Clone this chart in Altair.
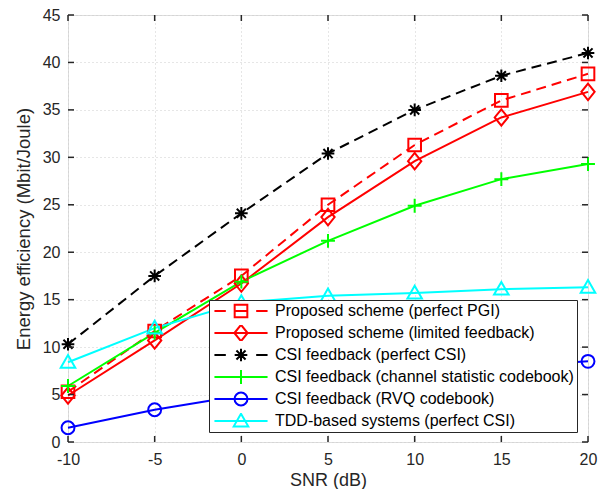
import altair as alt
import pandas as pd

# ---------------- data ----------------
snr = [-10, -5, 0, 5, 10, 15, 20]
series_names = [
    "Proposed scheme (perfect PGI)",
    "Proposed scheme (limited feedback)",
    "CSI feedback (perfect CSI)",
    "CSI feedback (channel statistic codebook)",
    "CSI feedback (RVQ codebook)",
    "TDD-based systems (perfect CSI)",
]
perfect_pgi = [5.3, 11.7, 17.5, 25.0, 31.3, 36.0, 38.8]
limited_feedback = [4.9, 10.7, 16.7, 23.7, 29.6, 34.2, 36.9]
perfect_csi = [10.3, 17.5, 24.1, 30.4, 35.0, 38.6, 41.0]
statistic_codebook = [5.9, 11.5, 16.9, 21.2, 24.9, 27.7, 29.3]
rvq_codebook = [1.5, 3.4, 4.9, 6.1, 7.1, 7.9, 8.5]
tdd_systems = [8.4, 12.0, 14.7, 15.4, 15.7, 16.1, 16.3]

x_ticks = [-10, -5, 0, 5, 10, 15, 20]
y_ticks = [0, 5, 10, 15, 20, 25, 30, 35, 40, 45]

# ---------------- styles ----------------
colors = ["#ff0000", "#ff0000", "#000000", "#00ff00", "#0000ff", "#00ffff"]
dashes = [[10, 6], None, [10, 6], None, None, None]

sq = "M-1,-1H1V1H-1Z"
dia = "M0,-1.3L1.05,0L0,1.3L-1.05,0Z"
ast = "M0,-1V1M-1,0H1M-0.72,-0.72L0.72,0.72M-0.72,0.72L0.72,-0.72"
plus = "M0,-1.1V1.1M-1.1,0H1.1"
circ = "M1.02,0A1.02,1.02,0,1,1,-1.02,0A1.02,1.02,0,1,1,1.02,0Z"
tri = "M0,-1.15L1.15,0.85H-1.15Z"
markers = [sq, dia, ast, plus, circ, tri]

solid_seg = "M-4.2,0H4.2"
dash_seg = "M-4.2,0H-2.4M2.4,0H4.2"
legend_paths = [
    dash_seg + "M-1,0H1" + sq,
    solid_seg + dia,
    dash_seg + ast,
    solid_seg + plus,
    solid_seg + circ,
    solid_seg + tri,
]

all_series = [perfect_pgi, limited_feedback, perfect_csi,
              statistic_codebook, rvq_codebook, tdd_systems]
rows = []
for name, vals in zip(series_names, all_series):
    for s, v in zip(snr, vals):
        rows.append({"snr": s, "ee": v, "series": name})
df = pd.DataFrame(rows)
xt = pd.DataFrame({"snr": x_ticks})
yt = pd.DataFrame({"ee": y_ticks})

FONT = "Liberation Sans"
W, H = 520, 427
AX = "#262626"

xscale = alt.Scale(domain=[-10, 20], nice=False, zero=False)
yscale = alt.Scale(domain=[0, 45], nice=False, zero=False)
cscale = alt.Scale(domain=series_names, range=colors)

x_axis = alt.Axis(
    values=x_ticks, labelExpr="toString(datum.value)", labelFlush=False,
    ticks=False, domain=False, grid=True, gridDash=[1, 3], gridColor="#cccccc",
    gridWidth=1, labelFontSize=16, labelPadding=9, labelColor=AX,
    labelFont=FONT, title="SNR (dB)", titleFont=FONT, titleFontSize=18,
    titleFontWeight="normal", titleColor=AX, titleX=W / 2, titleY=38.5,
    titleBaseline="middle",
)
y_axis = alt.Axis(
    values=y_ticks, labelFlush=False, ticks=False, domain=False, grid=True,
    gridDash=[1, 3], gridColor="#cccccc", gridWidth=1, labelFontSize=16,
    labelPadding=8, labelColor=AX, labelFont=FONT,
    title="Energy efficiency (Mbit/Joule)", titleFont=FONT, titleFontSize=18.5,
    titleFontWeight="normal", titleColor=AX, titleX=-45, titleY=H / 2,
    titleBaseline="middle",
)

X = alt.X("snr:Q", scale=xscale, axis=x_axis)
Y = alt.Y("ee:Q", scale=yscale, axis=y_axis)

line_layers = []
point_layers = []
for name, col, mk, dsh in zip(series_names, colors, markers, dashes):
    base = alt.Chart(df).transform_filter(alt.datum.series == name)
    lkw = dict(stroke=col, strokeWidth=2)
    if dsh is not None:
        lkw["strokeDash"] = dsh
    line_layers.append(base.mark_line(**lkw).encode(x=X, y=Y))
    point_layers.append(
        base.mark_point(shape=mk, filled=False, stroke=col, strokeWidth=2,
                        size=160, opacity=1).encode(x=X, y=Y)
    )

legend_spec = alt.Legend(
    title=None, orient="none", legendX=141, legendY=285, fillColor="white",
    strokeColor=AX, padding=3, symbolSize=160, symbolStrokeWidth=2,
    symbolOffset=21, labelOffset=26, labelFontSize=16, labelFont=FONT,
    labelColor="#000000", labelLimit=500, clipHeight=16, rowPadding=6,
)
legend_layer = alt.Chart(df).transform_filter("false").mark_point(
    filled=False, strokeWidth=2, size=160, opacity=1
).encode(
    x=X, y=Y,
    color=alt.Color("series:N", scale=cscale, legend=legend_spec),
    shape=alt.Shape("series:N", scale=alt.Scale(domain=series_names, range=legend_paths),
                    legend=legend_spec),
)

tick_style = dict(color=AX, strokeWidth=1.5)
top_ticks = alt.Chart(xt).mark_rule(**tick_style).encode(
    x=X, y=alt.value(0), y2=alt.value(6))
bottom_ticks = alt.Chart(xt).mark_rule(**tick_style).encode(
    x=X, y=alt.value(H), y2=alt.value(H - 6))
left_ticks = alt.Chart(yt).mark_rule(**tick_style).encode(
    y=Y, x=alt.value(0), x2=alt.value(6))
right_ticks = alt.Chart(yt).mark_rule(**tick_style).encode(
    y=Y, x=alt.value(W), x2=alt.value(W - 6))

chart = alt.layer(
    *line_layers, *point_layers, top_ticks, bottom_ticks, left_ticks,
    right_ticks, legend_layer
).properties(
    width=W, height=H,
    autosize=alt.AutoSizeParams(type="none"),
    padding={"left": 60, "top": 7, "right": 14, "bottom": 47},
).configure_view(stroke=AX, strokeWidth=1.5).configure(background="white")

chart.save("out.html", embed_options={"renderer": "svg", "actions": False})
